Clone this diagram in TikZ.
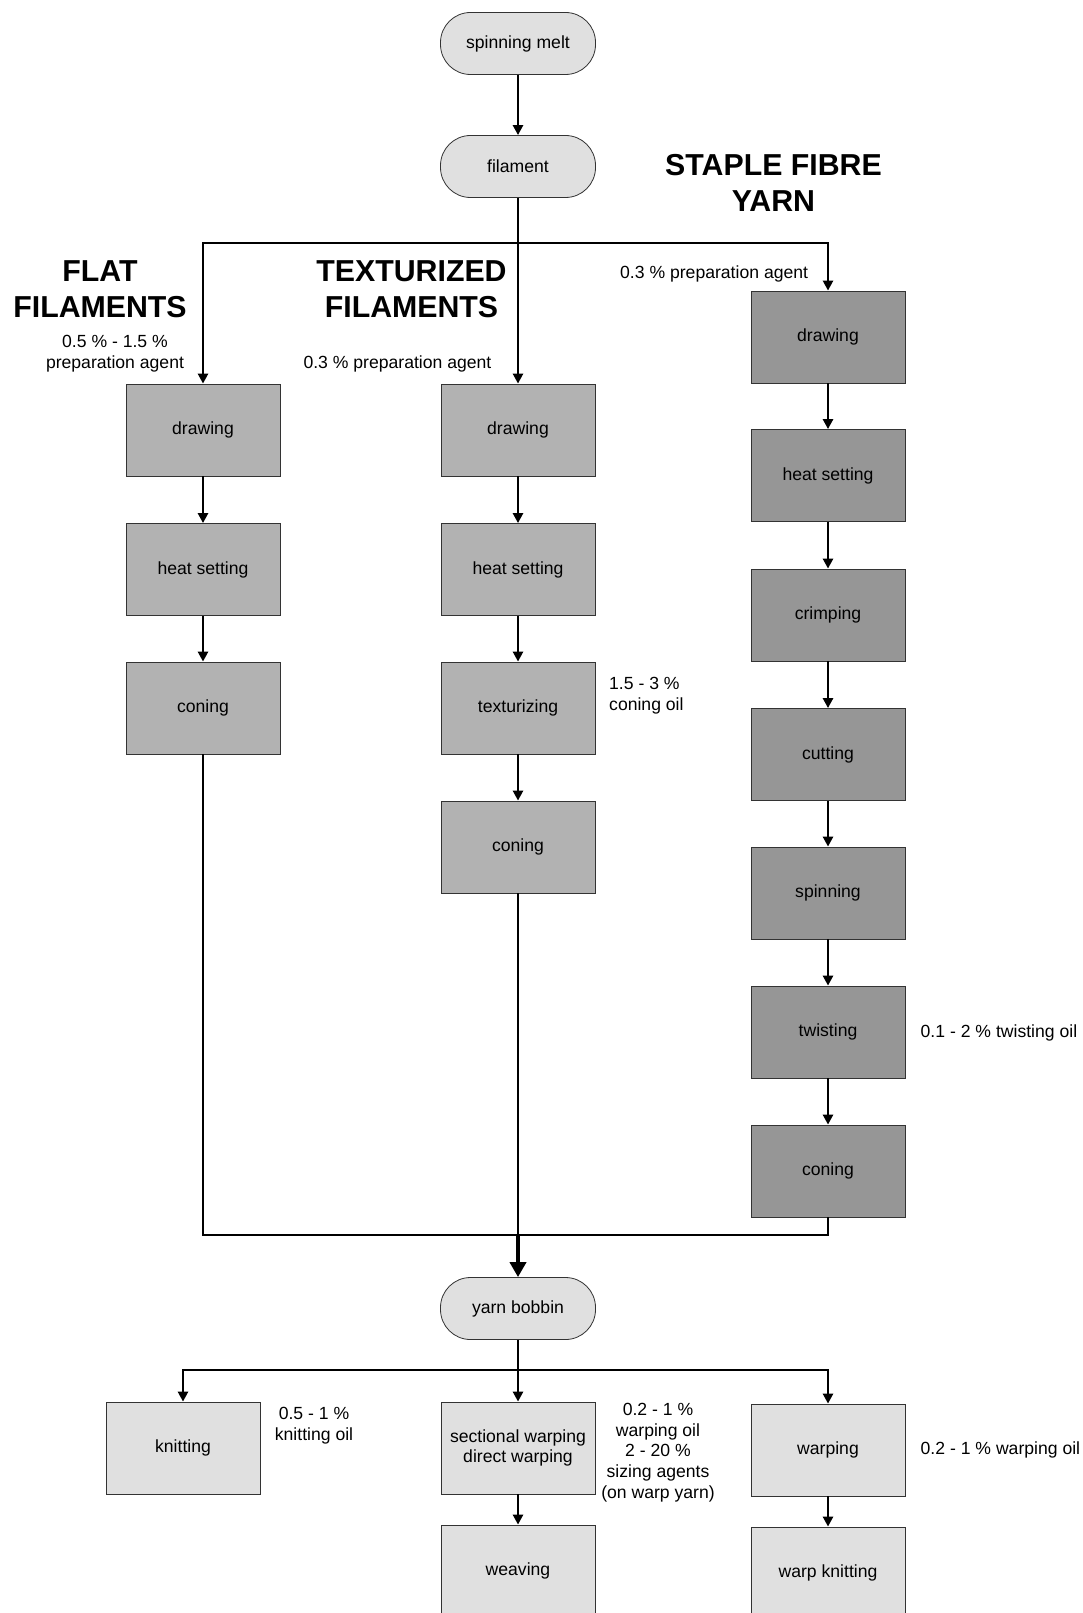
\documentclass[tikz,border=0pt]{standalone}
\usepackage{fontspec}
\setmainfont{Liberation Sans}
\usetikzlibrary{arrows.meta}
\definecolor{gristerm}{RGB}{224,224,224}
\definecolor{grisfil}{RGB}{178,178,178}
\definecolor{grisfib}{RGB}{150,150,150}
\newcommand{\ftxt}{\fontsize{17.6}{20.6}\selectfont}
\newcommand{\ftitre}{\fontsize{30.3}{36}\selectfont\bfseries}
\tikzset{
  terminal/.style={draw=black!80, line width=0.8pt, fill=gristerm, rounded corners=30pt,
    minimum width=155pt, minimum height=62pt, inner sep=0pt, font=\ftxt},
  etape/.style={draw=black!80, line width=0.8pt, minimum width=154pt, minimum height=92pt,
    inner sep=0pt, font=\ftxt, align=center},
  fleche/.style={line width=2.8pt, -{Triangle[length=10pt,width=10pt]}},
  grossefleche/.style={line width=4pt, -{Triangle[length=15pt,width=16pt]}},
  trait/.style={line width=2.8pt},
  note/.style={font=\ftxt, align=center, inner sep=0pt},
  titre/.style={font=\ftitre, align=center, inner sep=0pt},
}
\begin{document}
\begin{tikzpicture}[x=1pt,y=-1pt]
\useasboundingbox (0,0) rectangle (1083,1613);
% noeuds du haut
\node[terminal] (fonte) at (518,43.5) {spinning melt};
\node[terminal] (filam) at (518,166.5) {filament};
% filaments plats
\node[etape,fill=grisfil] (pdraw) at (203,430) {drawing};
\node[etape,fill=grisfil] (pheat) at (203,569.5) {heat setting};
\node[etape,fill=grisfil] (pcon) at (203,708) {coning};
% filaments texturés
\node[etape,fill=grisfil] (tdraw) at (518,430) {drawing};
\node[etape,fill=grisfil] (theat) at (518,569.5) {heat setting};
\node[etape,fill=grisfil] (ttext) at (518,708) {texturizing};
\node[etape,fill=grisfil] (tcon) at (518,847) {coning};
% fibres
\node[etape,fill=grisfib] (sdraw) at (828,337) {drawing};
\node[etape,fill=grisfib] (sheat) at (828,475.5) {heat setting};
\node[etape,fill=grisfib] (scrimp) at (828,615) {crimping};
\node[etape,fill=grisfib] (scut) at (828,754.5) {cutting};
\node[etape,fill=grisfib] (sspin) at (828,893) {spinning};
\node[etape,fill=grisfib] (stwist) at (828,1032) {twisting};
\node[etape,fill=grisfib] (scon) at (828,1171) {coning};
% bobine et suite
\node[terminal] (bobine) at (518,1308.5) {yarn bobbin};
\node[etape,fill=gristerm] (knit) at (183,1448) {knitting};
\node[etape,fill=gristerm] (sect) at (518,1448) {sectional warping\\direct warping};
\node[etape,fill=gristerm] (warp) at (828,1450) {warping};
\node[etape,fill=gristerm] (weav) at (518,1571) {weaving};
\node[etape,fill=gristerm] (wknit) at (828,1573) {warp knitting};
% titres
\node[titre] (tplat) at (100,289) {FLAT\\FILAMENTS};
\node[titre] (ttex) at (411.5,289) {TEXTURIZED\\FILAMENTS};
\node[titre] (tfib) at (773.5,183) {STAPLE FIBRE\\YARN};
% textes
\node[note] (npl) at (115,353.5) {0.5 \% - 1.5 \%\\preparation agent};
\node[note,anchor=east] (ntex) at (491.6,364) {0.3 \% preparation agent};
\node[note,anchor=west] (nfib) at (620,273.5) {0.3 \% preparation agent};
\node[note,anchor=west,align=left] (ntext) at (609,695.5) {1.5 - 3 \%\\coning oil};
\node[note,anchor=west] (ntw) at (920.5,1032.5) {0.1 - 2 \% twisting oil};
\node[note] (nkn) at (314,1425.5) {0.5 - 1 \%\\knitting oil};
\node[note] (nsect) at (658,1452.5) {0.2 - 1 \%\\warping oil\\2 - 20 \%\\sizing agents\\(on warp yarn)};
\node[note,anchor=west] (nwarp) at (920.5,1450) {0.2 - 1 \% warping oil};
% points de jonction
\coordinate (haut) at (518,243);
\coordinate (bas) at (518,1235);
\coordinate (bas2) at (518,1370);
% liaisons
\draw[fleche] (fonte) -- (filam);
\draw[fleche] (filam) -- (tdraw);
\draw[fleche] (haut) -| (pdraw.north);
\draw[fleche] (haut) -| (sdraw.north);
\draw[fleche] (pdraw) -- (pheat);
\draw[fleche] (pheat) -- (pcon);
\draw[fleche] (tdraw) -- (theat);
\draw[fleche] (theat) -- (ttext);
\draw[fleche] (ttext) -- (tcon);
\draw[fleche] (sdraw) -- (sheat);
\draw[fleche] (sheat) -- (scrimp);
\draw[fleche] (scrimp) -- (scut);
\draw[fleche] (scut) -- (sspin);
\draw[fleche] (sspin) -- (stwist);
\draw[fleche] (stwist) -- (scon);
\draw[trait] (pcon.south) |- (bas);
\draw[trait] (scon.south) |- (bas);
\draw[trait] (tcon) -- (bas);
\draw[grossefleche] (bas) -- (bobine);
\draw[fleche] (bobine) -- (sect);
\draw[fleche] (bas2) -| (knit.north);
\draw[fleche] (bas2) -| (warp.north);
\draw[fleche] (sect) -- (weav);
\draw[fleche] (warp) -- (wknit);
\end{tikzpicture}
\end{document}
